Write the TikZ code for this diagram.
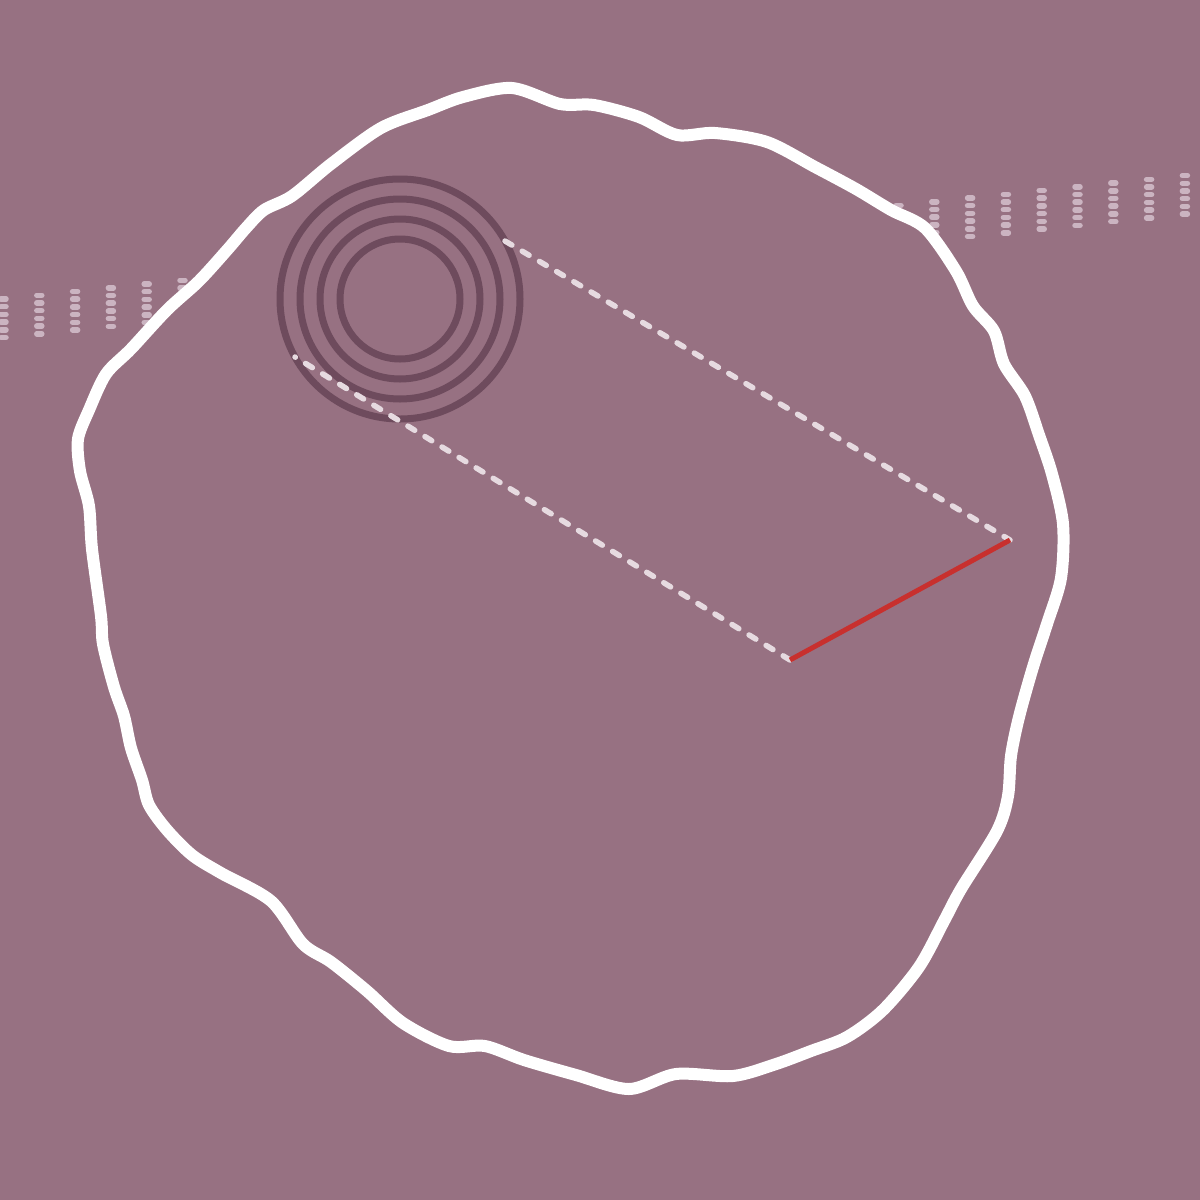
\documentclass[tikz,border=0pt]{standalone}
\definecolor{bgmauve}{HTML}{977182}
\definecolor{ringdark}{HTML}{6E4B5D}
\definecolor{dashpink}{HTML}{E6DAE0}
\definecolor{pillpink}{HTML}{CBB4C1}
\definecolor{edgered}{HTML}{C8302E}
\tikzset{
  ring/.style={draw=ringdark, line width=7pt},
  guide/.style={draw=dashpink, line width=5.5pt, line cap=round, dash pattern=on 8pt off 12pt},
  pill/.style={draw=pillpink, line width=5.5pt, line cap=round},
  outline/.style={draw=white, line width=12pt, fill=bgmauve},
}
\begin{document}
\begin{tikzpicture}[x=1pt,y=-1pt]
  \fill[bgmauve] (0,0) rectangle (1200,1200);
  \useasboundingbox (0,0) rectangle (1200,1200);
  % band of small dashes behind the blob
  \foreach \i in {0,...,33}
    \foreach \j in {0,...,5}
      \draw[pill] ({1+35.8*\i},{299-3.74*\i+7.7*\j}) -- ++(5,0);
  % wavy blob
  \draw[outline] plot[smooth cycle] coordinates {
    (512,88) (560,104) (594,105) (639,117) (677,135) (715,133) (767,142)
    (815,167) (856,189) (891,210) (925,228) (956,271) (973,306) (994,331)
    (1004,364) (1025,396) (1039,435) (1052,474) (1063,524) (1061,578)
    (1047,624) (1033,667) (1019,717) (1011,756) (1008,796) (997,831)
    (961,889) (944,921) (919,967) (883,1010) (847,1037) (811,1051)
    (776,1064) (733,1076) (676,1074) (629,1089) (576,1075) (524,1060)
    (485,1046) (449,1046) (403,1023) (367,991) (331,962) (303,944)
    (271,901) (221,873) (192,855) (167,830) (149,805) (142,780) (131,748)
    (124,716) (114,687) (103,644) (101,616) (92,549) (89,506) (80,471)
    (78,439) (89,410) (106,374) (131,349) (167,310) (199,281) (228,249)
    (246,228) (264,210) (292,196) (331,164) (381,128) (428,110) (463,97)};
  % rings
  \foreach \r in {60,80,100,120}
    \draw[ring] (400,299) circle (\r pt);
  % guide lines and edge
  \coordinate (topstart) at (505,241);
  \coordinate (topend) at (1010,540);
  \coordinate (lowstart) at (295,357);
  \coordinate (lowend) at (790,660);
  \draw[guide] (topstart) -- (topend);
  \draw[guide] (lowend) -- (lowstart);
  \draw[edgered, line width=5pt] (lowend) -- (topend);
\end{tikzpicture}
\end{document}
